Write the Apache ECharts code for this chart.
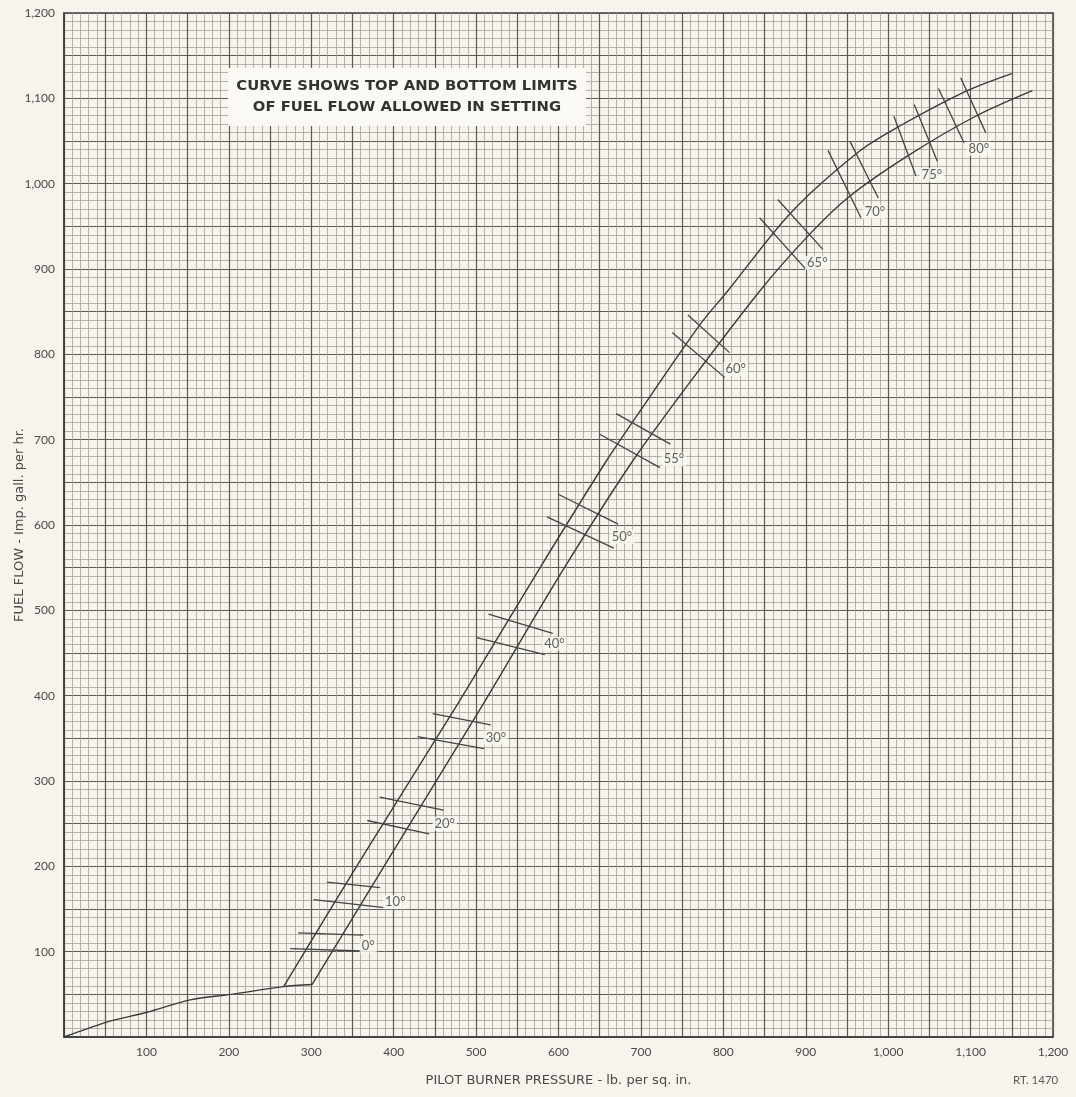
<!DOCTYPE html>
<html><head><meta charset="utf-8">
<script src="https://cdn.jsdelivr.net/npm/echarts@6/dist/echarts.min.js"></script>
<style>html,body{margin:0;padding:0;background:#f6f4ec;} #c{width:1076px;height:1097px;}</style>
</head><body><div id="c"></div>
<script>
// ---- data ----
const xTickValues = [100,200,300,400,500,600,700,800,900,1000,1100,1200];
const yTickValues = [100,200,300,400,500,600,700,800,900,1000,1100,1200];

// common low-pressure part of the curve (pressure, flow)
const sharedCurve = [[0,0],[52,17.5],[101,29],[153,43.5],[203,50],[266.5,59],[301,61.5]];
// top limit of fuel flow
const upperLimit = [[266.5,59],[355,200],[480,394],[577,549],[658,675],[700,735],[771,834],[805,874],[882,966],[965,1038],[1013,1067],[1096,1109],[1150,1129]];
// bottom limit of fuel flow
const lowerLimit = [[301,61.5],[338,120],[399,217],[511,394],[604,545],[690,675],[760,768],[844,874],[904,940],[953,985],[1026,1034],[1106,1079],[1175,1109]];

// temperature settings marked across the curves
const tempNames = ['0°','10°','20°','30°','40°','50°','55°','60°','65°','70°','75°','80°'];
const tempUpperTicks = [
  [[284,122],[363,119.5]], [[319,181.5],[383.6,175]], [[383,281],[460.5,266]], [[447.4,379],[517.7,365.7]],
  [[515,495.7],[593,473]], [[599.6,636],[672.3,601]], [[670,730.5],[735.7,694.7]], [[757,846],[807.5,802]],
  [[866,981.5],[920.8,923]], [[953.7,1049.6],[988,983.3]], [[1031.6,1092.7],[1059.8,1026]], [[1088,1124],[1118.5,1059.5]]
];
const tempLowerTicks = [
  [[274.5,103.5],[361.5,100.8]], [[303,161],[388.6,151.5]], [[368,253.7],[443,238]], [[429,352],[509.5,338]],
  [[500.7,468],[583.4,448]], [[586,609.6],[667,573]], [[650,706.4],[723,667.3]], [[738,825.6],[801.5,773]],
  [[844,960],[900.4,899.6]], [[927,1039],[967,960]], [[1007,1079],[1033.7,1009]], [[1061,1111.5],[1092,1048]]
];
const tempLabelAt = [[369,107],[402,158],[462,250],[524,351],[595,461],[677,586],[740,677],[815,783],[914,907],[984,967],[1053,1010],[1110,1041]];

const noteLines = ['CURVE SHOWS TOP AND BOTTOM LIMITS','OF FUEL FLOW ALLOWED IN SETTING'];
const xName = 'PILOT BURNER PRESSURE - lb. per sq. in.';
const yName = 'FUEL FLOW - Imp. gall. per hr.';
const refNo = 'RT. 1470';

// ---- chart ----
const FONT = 'Lato, "Open Sans", sans-serif';
const WIDE = '"DejaVu Sans", Verdana, sans-serif';
const INK = '#3a3a38';
const fmt = v => v >= 1000 ? String(v).replace(/(\d)(\d{3})$/, '$1,$2') : String(v);

function axis(ticks, name, gap) {
  return {
    type: 'value', min: 0, max: 1200, interval: 50,
    name: name, nameLocation: 'middle', nameGap: gap, nameMoveOverlap: false,
    nameTextStyle: {fontFamily: WIDE, fontSize: 13, color: '#4a4a48'},
    axisLine: {show: true, lineStyle: {color: '#3c3c3a', width: 1.5}},
    axisTick: {show: false},
    minorTick: {show: false, splitNumber: 5},
    axisLabel: {fontFamily: FONT, fontSize: 12, color: '#4a4a48', margin: 9,
      formatter: v => ticks.includes(v) ? fmt(v) : ''},
    splitLine: {show: true, lineStyle: {color: '#5b5b57', width: 1.2}},
    minorSplitLine: {show: true, lineStyle: {color: '#a4a39c', width: 0.8}}
  };
}

const chart = echarts.init(document.getElementById('c'), null, {renderer: 'canvas'});
const curveStyle = {color: INK, width: 1.4};

chart.setOption({
  backgroundColor: '#f6f4ec',
  animation: false,
  grid: {left: 64, right: 23, top: 13, bottom: 60, containLabel: false, outerBoundsMode: 'none',
    show: true, borderColor: '#3c3c3a', borderWidth: 1.5, backgroundColor: 'transparent'},
  xAxis: axis(xTickValues, xName, 37),
  yAxis: axis(yTickValues, yName, 38),
  series: [
    {type: 'line', data: sharedCurve, showSymbol: false, smooth: 0.3, lineStyle: curveStyle, z: 5},
    {type: 'line', data: upperLimit, showSymbol: false, smooth: 0.3, lineStyle: curveStyle, z: 5},
    {type: 'line', data: lowerLimit, showSymbol: false, smooth: 0.3, lineStyle: curveStyle, z: 5},
    {type: 'lines', coordinateSystem: 'cartesian2d', z: 6,
      lineStyle: {color: '#444442', width: 1.3, opacity: 1},
      data: tempUpperTicks.concat(tempLowerTicks).map(c => ({coords: c}))},
    {type: 'scatter', symbolSize: 0, z: 7,
      data: tempLabelAt.map((p, i) => ({value: p, name: tempNames[i]})),
      label: {show: true, position: 'inside', formatter: '{b}', fontFamily: FONT, fontSize: 13,
        color: '#3a3a38', backgroundColor: '#faf9f3', padding: [1, 2, 0, 2]}}
  ],
  graphic: [
    {type: 'rect', z: 50, shape: {x: 228, y: 68, width: 358, height: 58}, style: {fill: '#faf9f3'}},
    {type: 'text', z: 51, x: 407, y: 76, style: {text: noteLines.join('\n'), align: 'center', textAlign: 'center',
      font: 'bold 14.8px ' + WIDE, fill: '#333331', lineHeight: 21}},
    {type: 'text', z: 51, x: 1013, y: 1074, style: {text: refNo, font: '11.5px ' + FONT, fill: '#5a5a58'}}
  ]
});
</script></body></html>
